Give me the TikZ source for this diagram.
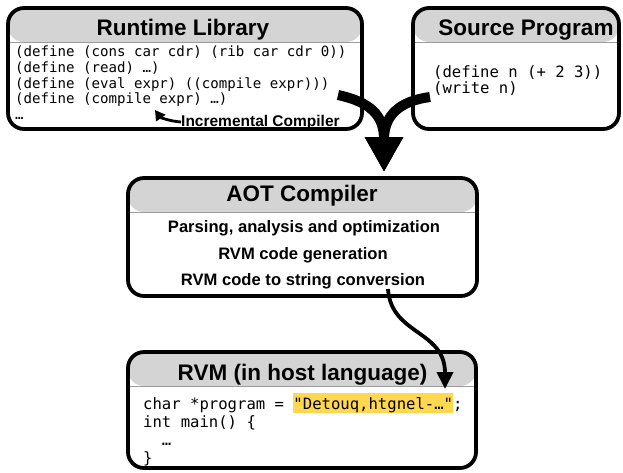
\documentclass[tikz,border=0pt]{standalone}
\usepackage{fontspec}
\setmainfont{Liberation Sans}
\newfontfamily\codefont{DejaVu Sans Mono}[Ligatures=TeXOff]
\usetikzlibrary{arrows.meta}
\definecolor{hdrgray}{HTML}{D4D4D4}
\definecolor{rulegray}{HTML}{9C9C9C}
\definecolor{hilite}{HTML}{FFD84F}
\frenchspacing

\begin{document}
\begin{tikzpicture}[x=1pt,y=-1pt,
  panel/.style={draw=black, fill=white, line width=3.8pt, rounded corners=16pt,
    anchor=north west, inner sep=0pt, outer sep=0pt,
    path picture={
      \fill[hdrgray] (path picture bounding box.north west)
        rectangle ([yshift=-34pt]path picture bounding box.north east);
      \draw[rulegray, line width=0.8pt]
        ([yshift=-34pt]path picture bounding box.north west)
        -- ([yshift=-34pt]path picture bounding box.north east);}},
  paneltitle/.style={font=\bfseries\fontsize{22.5}{27}\selectfont, anchor=base, inner sep=0pt},
  steptext/.style={font=\bfseries\fontsize{16.6}{20}\selectfont, anchor=base, inner sep=0pt},
  notetext/.style={font=\bfseries\fontsize{15.5}{18}\selectfont, anchor=base west, inner sep=0pt},
  smallcode/.style={font=\codefont\fontsize{14.1}{16}\selectfont, anchor=base west, inner sep=0pt},
  bigcode/.style={font=\codefont\fontsize{15.6}{18}\selectfont, anchor=base west, inner sep=0pt},
  bigflow/.style={line width=10pt, -{Triangle[width=36pt,length=35pt]}},
  thinflow/.style={line width=3.8pt, -{Triangle[width=16pt,length=17pt]}},
  noteflow/.style={line width=2.8pt, -{Triangle[width=11pt,length=10pt]}},
]
\useasboundingbox[fill=white] (0,0) rectangle (623,472);

% the four panels
\node[panel, minimum width=354pt, minimum height=121pt] (runtime) at (8,8) {};
\node[panel, minimum width=206pt, minimum height=121pt] (source) at (413,8) {};
\node[panel, minimum width=349pt, minimum height=118pt] (aot) at (128,178) {};
\node[panel, minimum width=348pt, minimum height=116pt] (rvm) at (128,352) {};

% panel titles
\node[paneltitle] (rtitle) at (183,35) {Runtime Library};
\node[paneltitle] (stitle) at (526,35) {Source Program};
\node[paneltitle] (atitle) at (302,201) {AOT Compiler};
\node[paneltitle] (vtitle) at (302.5,380) {RVM (in host language)};

% runtime library code
\foreach \txt [count=\i] in {{(define (cons car cdr) (rib car cdr 0))},
    {(define (read) …)},
    {(define (eval expr) ((compile expr)))},
    {(define (compile expr) …)},
    {…}}
  \node[smallcode] (rl\i) at (15,{56.5+15.8*(\i-1)}) {\txt};

% source program code
\node[bigcode] (sp1) at (433,77) {(define n (+ 2 3))};
\node[bigcode] (sp2) at (433,93) {(write n)};

% compiler stages
\node[steptext] (st1) at (304,232.5) {Parsing, analysis and optimization};
\node[steptext] (st2) at (303,259) {RVM code generation};
\node[steptext] (st3) at (303,285.5) {RVM code to string conversion};

% generated host program
\node[bigcode] (rv1) at (143,409) {char *program = {\fboxsep=0pt\colorbox{hilite}{\rule[-3.5pt]{0pt}{19.5pt}"Detouq,htgnel-…"}};};
\node[bigcode] (rv2) at (143,427) {int main() \{};
\node[bigcode] (rv3) at (143,445) {\phantom{00}…};
\node[bigcode] (rv4) at (143,463) {\}};

% note on the incremental compiler
\node[notetext] (inc) at (181,126) {Incremental Compiler};
\coordinate (cgap) at (155,110);
\draw[noteflow] (inc.west) .. controls (168,121) and (160,117) .. (cgap);

% flows into and out of the compiler
\coordinate (rlout) at (338,95);
\coordinate (spout) at (430,97);
\coordinate (merge) at (384,172);
\draw[bigflow] (rlout) .. controls (370,102) and (384,115) .. (merge);
\draw[bigflow] (spout) .. controls (400,101) and (384,115) .. (merge);

\coordinate (aotout) at (388,289);
\coordinate (rvmin) at (445,389);
\draw[thinflow] (aotout) .. controls (391,335) and (445,330) .. (rvmin);
\end{tikzpicture}
\end{document}
